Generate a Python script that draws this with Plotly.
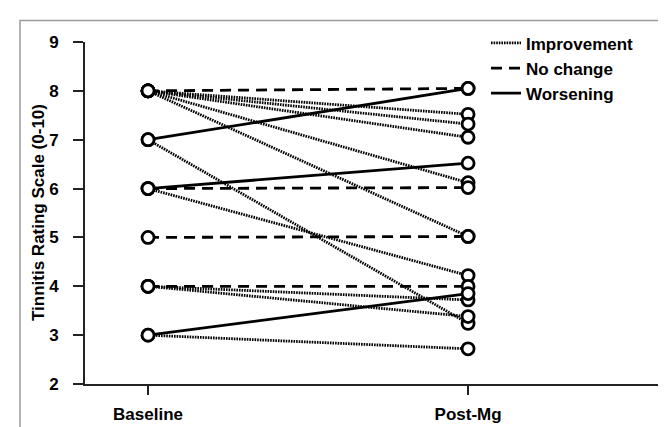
import plotly.graph_objects as go

# ---- data ----
time_points = ["Baseline", "Post-Mg"]
baseline = [8, 8, 8, 8, 8, 8, 7, 7, 6, 6, 6, 5, 4, 4, 4, 3, 3]
post_mg = [8.05, 7.52, 7.32, 7.05, 6.12, 5.02, 8.05, 3.24, 6.52, 6.02, 4.22, 5.02, 4.0, 3.72, 3.38, 3.85, 2.72]
change = ["No change", "Improvement", "Improvement", "Improvement", "Improvement", "Improvement",
          "Worsening", "Improvement", "Worsening", "No change", "Improvement", "No change",
          "No change", "Improvement", "Improvement", "Worsening", "Improvement"]
y_ticks = [2, 3, 4, 5, 6, 7, 8, 9]
groups = ["Improvement", "No change", "Worsening"]
dash_styles = {"Improvement": "1.6px,1px", "No change": "11px,7px", "Worsening": "solid"}

FONT = "Liberation Sans, Arial, sans-serif"

fig = go.Figure()

for g in groups:
    xs, ys = [], []
    for b, p, c in zip(baseline, post_mg, change):
        if c == g:
            xs += [0, 1, None]
            ys += [b, p, None]
    fig.add_trace(go.Scatter(
        x=xs, y=ys, mode="lines", name=g,
        line=dict(color="black", width=2.8, dash=dash_styles[g]),
        connectgaps=False, hoverinfo="skip",
    ))

fig.add_trace(go.Scatter(
    x=[0] * len(baseline) + [1] * len(post_mg),
    y=baseline + post_mg,
    mode="markers", showlegend=False,
    marker=dict(symbol="circle", size=12, color="white",
                line=dict(color="black", width=2.8)),
))

W, H = 666, 427
ml, mr, mt, mb = 77, 11, 34, 43
pw = W - ml - mr
ph = H - mt - mb

def px_x(x):
    return (x - ml) / pw

def px_y(y):
    return 1 - (y - mt) / ph

fig.update_layout(
    width=W, height=H,
    margin=dict(l=ml, r=mr, t=mt, b=mb),
    paper_bgcolor="white", plot_bgcolor="white",
    font=dict(family=FONT, color="black"),
    xaxis=dict(range=[-0.197, 1.609], tickvals=[0, 1], ticktext=time_points,
               showline=True, linecolor="#222", linewidth=2,
               ticks="outside", ticklen=9, tickwidth=1.5, tickcolor="#222",
               showgrid=False, zeroline=False,
               tickfont=dict(family=FONT, size=17, weight="bold"),
               ticklabelstandoff=5),
    yaxis=dict(range=[2, 9], tickvals=y_ticks,
               showline=True, linecolor="#222", linewidth=2,
               ticks="outside", ticklen=10, tickwidth=1.5, tickcolor="#222",
               showgrid=False, zeroline=False,
               tickfont=dict(family=FONT, size=17, weight="bold"),
               ticklabelstandoff=11),
    legend=dict(x=px_x(478), y=px_y(17), xanchor="left", yanchor="top",
                bgcolor="rgba(0,0,0,0)",
                font=dict(family=FONT, size=17, weight="bold"),
                tracegroupgap=0, itemwidth=30),
    showlegend=True,
    annotations=[dict(
        text="Tinnitis Rating Scale (0-10)", textangle=-90,
        x=px_x(30), y=0.5, xref="paper", yref="paper",
        xanchor="center", yanchor="middle", showarrow=False,
        font=dict(family=FONT, size=17, weight="bold"),
    )],
    shapes=[dict(type="rect", xref="paper", yref="paper",
                 x0=px_x(12), x1=px_x(663), y0=px_y(440), y1=px_y(12),
                 line=dict(color="#9a9a9a", width=1.5), layer="below")],
)

fig.write_html("out.html")
